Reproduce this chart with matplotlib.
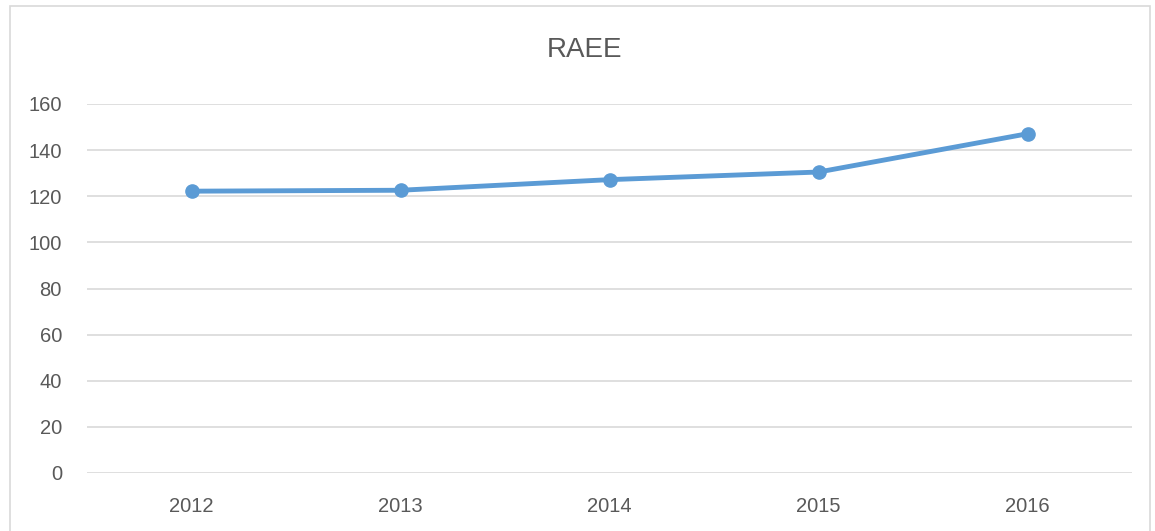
import matplotlib.pyplot as plt
from matplotlib.patches import Rectangle

years = ['2012', '2013', '2014', '2015', '2016']
raee = [122.2, 122.6, 127.2, 130.5, 147.1]
yticks = [0, 20, 40, 60, 80, 100, 120, 140, 160]

plt.rcParams['font.family'] = ['Liberation Sans', 'DejaVu Sans']

fig = plt.figure(figsize=(11.55, 5.31), dpi=100)
# chart area border
fig.patches.append(Rectangle((10 / 1155, -0.01), 1140 / 1155, 1 - 6 / 531 + 0.01,
                             transform=fig.transFigure, fill=False,
                             edgecolor='#d9d9d9', linewidth=1.2))

ax = fig.add_axes([87 / 1155, 1 - 473 / 531, 1045 / 1155, 369 / 531])
x = range(len(years))
ax.plot(x, raee, color='#5b9bd5', linewidth=3.5, marker='o', markersize=9.5,
        solid_capstyle='round', zorder=3)

ax.set_xlim(-0.5, len(years) - 0.5)
ax.set_ylim(0, 160)
ax.set_xticks(list(x))
ax.set_xticklabels(years)
ax.set_yticks(yticks)
ax.grid(axis='y', color='#d9d9d9', linewidth=1.2)
ax.set_axisbelow(True)
for s in ax.spines.values():
    s.set_visible(False)
ax.tick_params(length=0, labelsize=14.5, colors='#595959')
ax.tick_params(axis='x', pad=17)
ax.tick_params(axis='y', pad=18)

fig.text(585 / 1155, 1 - 50 / 531, 'RAEE', ha='center', va='center',
         fontsize=20, color='#595959')

fig.savefig('out.png', dpi=100)
